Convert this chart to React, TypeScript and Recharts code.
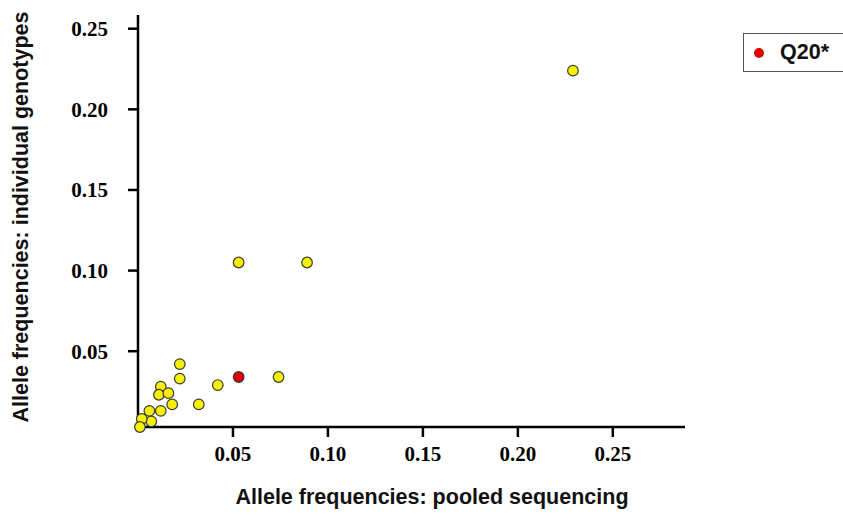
import React from "react";
import { ScatterChart, Scatter, XAxis, YAxis, Label } from "recharts";

// pooled sequencing (x) vs individual genotypes (y)
const pooledFreq = [
  0.229, 0.053, 0.089, 0.074, 0.042, 0.032, 0.022, 0.022, 0.012, 0.011, 0.016,
  0.018, 0.012, 0.006, 0.007, 0.002, 0.001,
];
const genotypeFreq = [
  0.224, 0.105, 0.105, 0.034, 0.029, 0.017, 0.042, 0.033, 0.028, 0.023, 0.024,
  0.017, 0.013, 0.013, 0.0065, 0.008, 0.003,
];
const q20Pooled = [0.053];
const q20Genotype = [0.034];

const xTicks = [0.05, 0.1, 0.15, 0.2, 0.25];
const yTicks = [0.05, 0.1, 0.15, 0.2, 0.25];

const xTitle = "Allele frequencies: pooled sequencing";
const yTitle = "Allele frequencies: individual genotypes";
const legendLabel = "Q20*";

const variants = pooledFreq.map((x, i) => ({ x, y: genotypeFreq[i] }));
const q20 = q20Pooled.map((x, i) => ({ x, y: q20Genotype[i] }));

const tickStyle = {
  fontFamily: "'Liberation Serif', serif",
  fontWeight: 700,
  fontSize: 21,
  fill: "#000",
};

const titleFont = "'Liberation Sans', Arial, sans-serif";

const dot = (fill: string) => (props: any) =>
  <circle cx={props.cx} cy={props.cy} r={5.3} fill={fill} stroke="#3a3a3a" strokeWidth={1.2} />;

export default function App() {
  return (
    <div style={{ position: "absolute", left: 0, top: 0, width: 843, height: 531, background: "#fff" }}>
      <ScatterChart
        width={843}
        height={531}
        margin={{ top: 15, right: 158, bottom: 74, left: 78 }}
      >
        <XAxis
          type="number"
          dataKey="x"
          domain={[0, 0.288]}
          ticks={xTicks}
          tickFormatter={(v) => v.toFixed(2)}
          height={30}
          tickSize={10}
          tickMargin={9}
          tick={tickStyle}
          axisLine={{ stroke: "#000", strokeWidth: 2.5 }}
          tickLine={{ stroke: "#000", strokeWidth: 2.5 }}
        >
          <Label
            content={() => (
              <text
                x={432}
                y={504}
                textAnchor="middle"
                fontFamily={titleFont}
                fontWeight={700}
                fontSize={21.5}
                fill="#111"
              >
                {xTitle}
              </text>
            )}
          />
        </XAxis>
        <YAxis
          type="number"
          dataKey="y"
          domain={[0.003, 0.2585]}
          ticks={yTicks}
          tickFormatter={(v) => v.toFixed(2)}
          width={60}
          tickSize={10}
          tickMargin={20}
          tick={tickStyle}
          axisLine={{ stroke: "#000", strokeWidth: 2.5 }}
          tickLine={{ stroke: "#000", strokeWidth: 2.5 }}
        >
          <Label
            content={() => (
              <text
                x={28}
                y={217}
                transform="rotate(-90 28 217)"
                textAnchor="middle"
                fontFamily={titleFont}
                fontWeight={700}
                fontSize={21.5}
                fill="#111"
              >
                {yTitle}
              </text>
            )}
          />
        </YAxis>
        <Scatter data={variants} isAnimationActive={false} shape={dot("#F7F000")} />
        <Scatter data={q20} isAnimationActive={false} shape={dot("#E00000")} />
      </ScatterChart>
      <div
        style={{
          position: "absolute",
          left: 743,
          top: 33,
          width: 110,
          height: 39,
          boxSizing: "border-box",
          border: "1px solid #555",
          display: "flex",
          alignItems: "center",
          fontFamily: titleFont,
          fontWeight: 700,
          fontSize: 21.5,
          color: "#111",
        }}
      >
        <span
          style={{
            display: "inline-block",
            width: 10,
            height: 10,
            borderRadius: "50%",
            background: "#E00000",
            marginLeft: 10,
            marginRight: 16,
          }}
        />
        <span>{legendLabel}</span>
      </div>
    </div>
  );
}
